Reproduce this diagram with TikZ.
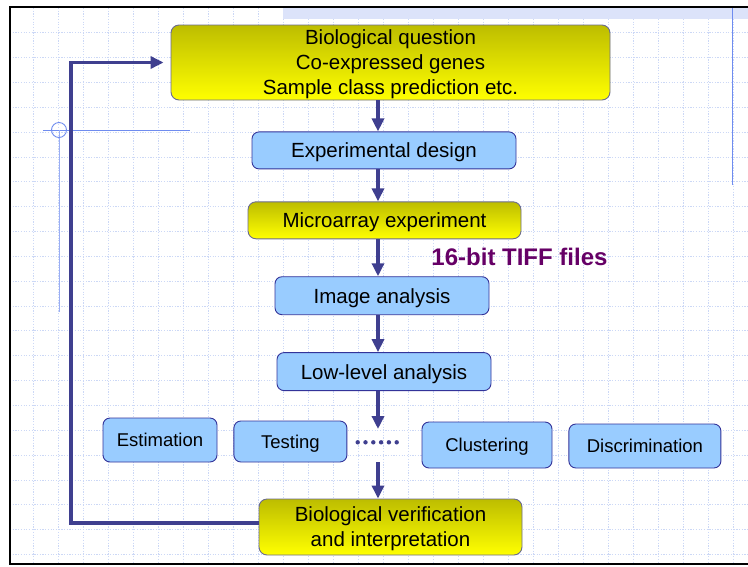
\documentclass[tikz,border=0pt]{standalone}
\usepackage{fontspec}
\setmainfont{Liberation Sans}
\usetikzlibrary{arrows.meta,positioning}
\definecolor{cArrow}{HTML}{3F3F8F}
\definecolor{cEdge}{HTML}{333399}
\definecolor{cSky}{HTML}{99CCFF}
\definecolor{cOlive}{HTML}{BDBD00}
\definecolor{cLemon}{HTML}{FFFF00}
\definecolor{cYEdge}{HTML}{6B6B8F}
\definecolor{cPlum}{HTML}{660066}
\definecolor{cGrid}{HTML}{CCD8F6}
\definecolor{cTmpl}{HTML}{6F8CEF}
\definecolor{cBand}{HTML}{DCE3FA}

\begin{document}
\begin{tikzpicture}[
  x=1pt, y=-1pt,
  font=\fontsize{20.5}{25}\selectfont,
  bbox/.style={draw=cEdge, fill=cSky, rounded corners=7pt,
               line width=0.9pt, inner sep=0pt, align=center,
               text depth=0pt},
  ybox/.style={draw=cYEdge, top color=cOlive, bottom color=cLemon,
               rounded corners=8pt, line width=0.9pt, inner sep=0pt,
               align=center, text depth=0pt},
  mbox/.style={bbox, font=\fontsize{18.5}{22}\selectfont},
  gridline/.style={cGrid, line width=0.8pt, dash pattern=on 1.2pt off 1.5pt},
  arr/.style={-{Triangle[length=13pt,width=12pt]}, line width=3.5pt,
              color=cArrow},
]

% ---- Slide background ----
\useasboundingbox (0,0) rectangle (748,566);
\fill[white] (0,0) rectangle (748,566);
\foreach \k in {1,...,29}
  \draw[gridline] ({8+25*\k},8) -- ({8+25*\k},564);
\foreach \k in {1,...,22}
  \draw[gridline] (10,{7.8+24.85*\k}) -- (748,{7.8+24.85*\k});
\fill[cBand] (283,8) rectangle (748,19);
\draw[cTmpl, line width=0.9pt] (732,7) -- (732,185);
\draw[cTmpl, line width=0.9pt] (43,130) -- (190,130);
\draw[cTmpl!70, line width=1pt] (59,130) -- (59,312);
\draw[cTmpl, line width=0.9pt] (59,130) circle[radius=7.5pt];
\draw[black, line width=2.5pt] (748,7) -- (10,7) -- (10,564) -- (748,564);

% ---- Main column ----
\node[ybox, minimum width=439pt, minimum height=75pt] (question) at (390.5,62.5)
  {Biological question\\Co-expressed genes\\Sample class prediction etc.};

\node[bbox, minimum width=264pt, minimum height=37pt,
      below=31pt of question, xshift=-6.5pt] (design) {Experimental design};

\node[ybox, minimum width=273pt, minimum height=37pt,
      below=32pt of design, xshift=0.5pt] (microarray) {Microarray experiment};

\node[bbox, minimum width=214pt, minimum height=38pt,
      below=37pt of microarray, xshift=-2.5pt] (imaging) {Image analysis};

\node[bbox, minimum width=214pt, minimum height=38pt,
      below=37pt of imaging, xshift=2pt] (lowlevel) {Low-level analysis};

\node[font=\fontsize{24}{28}\selectfont\bfseries, text=cPlum, inner sep=0pt]
  (tiff) at (519.5,256.5) {16-bit TIFF files};

% ---- Methods row ----
\node[mbox, minimum width=114pt, minimum height=44pt] (estim) at (160,440) {Estimation};
\node[mbox, minimum width=113pt, minimum height=41pt,
      right=16pt of estim, yshift=-1.5pt] (testing) {Testing};
\node[mbox, minimum width=130pt, minimum height=46pt] (cluster) at (487,445) {Clustering};
\node[mbox, minimum width=152pt, minimum height=44pt,
      right=16pt of cluster, yshift=-1pt] (discrim) {Discrimination};

\foreach \i in {0,...,5}
  \fill[cArrow] ({357.7+7.8*\i},442.3) circle[radius=2.2pt];

\node[ybox, minimum width=263pt, minimum height=56pt] (verify) at (390.5,527)
  {Biological verification\\and interpretation};

% ---- Arrows ----
\coordinate (spine) at (378,0);
\coordinate (gapTop) at (378,429);
\coordinate (gapBot) at (378,462);
\coordinate (loopcorner) at (71,523);

\draw[arr] (question.south -| spine) -- (design.north -| spine);
\draw[arr] (design.south -| spine) -- (microarray.north -| spine);
\draw[arr] (microarray.south -| spine) -- (imaging.north -| spine);
\draw[arr] (imaging.south -| spine) -- (lowlevel.north -| spine);
\draw[arr] (lowlevel.south -| spine) -- (gapTop);
\draw[arr] (gapBot) -- (verify.north -| spine);

\draw[arr, shorten >=7pt] (verify.west |- loopcorner) -- (loopcorner)
  |- (question.west);

\end{tikzpicture}
\end{document}
